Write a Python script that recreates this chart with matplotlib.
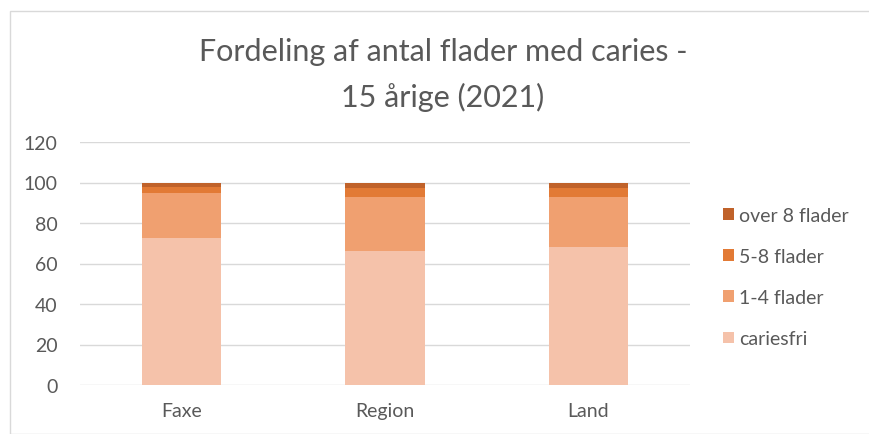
import matplotlib
matplotlib.use("Agg")
import matplotlib.pyplot as plt
from matplotlib.patches import Rectangle
import numpy as np

categories = ["Faxe", "Region", "Land"]
series_names = ["cariesfri", "1-4 flader", "5-8 flader", "over 8 flader"]
cariesfri = [72.5, 66, 68]
flader_1_4 = [22.5, 27, 25]
flader_5_8 = [3, 4.5, 4.5]
over_8 = [2, 2.5, 2.5]
yticks = [0, 20, 40, 60, 80, 100, 120]

colors = ["#F5C2AA", "#F0A070", "#E27A35", "#C0622A"]
plt.rcParams['font.family'] = ['Lato', 'DejaVu Sans']

fig = plt.figure(figsize=(8.7, 4.35), dpi=100)
fig.patches.append(Rectangle((10/870, 0), 1.0, 1 - 12/435, transform=fig.transFigure,
                             fill=False, edgecolor="#D9D9D9", linewidth=1))
ax = fig.add_axes([80/870, 49/435, 610/870, 243/435])

x = np.arange(len(categories))
bottom = np.zeros(len(categories))
handles = []
for name, vals, c in zip(series_names, [cariesfri, flader_1_4, flader_5_8, over_8], colors):
    h = ax.bar(x, vals, 0.39, bottom=bottom, color=c, label=name, zorder=3)
    handles.append(h)
    bottom += np.array(vals)

ax.set_xlim(-0.5, 2.5)
ax.set_ylim(0, 120)
ax.set_yticks(yticks)
ax.set_xticks(x)
ax.set_xticklabels(categories)
ax.grid(axis='y', color="#D9D9D9", linewidth=1, zorder=0)
for s in ax.spines.values():
    s.set_visible(False)
ax.tick_params(length=0, colors="#595959", labelsize=14)
ax.tick_params(axis='y', pad=16)
ax.tick_params(axis='x', pad=12)

fig.text(443/870, 1 - 52/435, "Fordeling af antal flader med caries -", ha='center', va='center',
         fontsize=22, color="#595959")
fig.text(443/870, 1 - 97/435, "15 årige (2021)", ha='center', va='center',
         fontsize=22, color="#595959")

leg = fig.legend(handles[::-1], series_names[::-1], loc='center left',
                 bbox_to_anchor=(706/870, 1 - 278/435), frameon=False,
                 fontsize=14, labelcolor="#595959", handlelength=0.55, handleheight=0.55,
                 handletextpad=0.25, labelspacing=1.25)

fig.savefig("out.png", dpi=100)
